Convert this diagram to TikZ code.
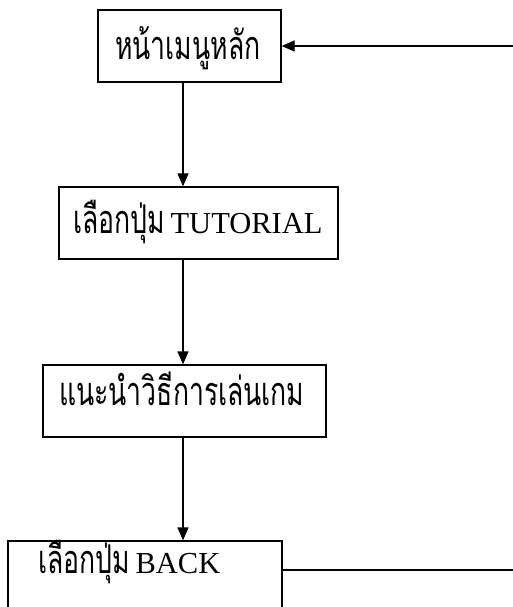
\documentclass[tikz,border=0pt]{standalone}
\usepackage{fontspec}
\setmainfont{Liberation Serif}
\newfontfamily\thaifont[Script=Thai,FakeStretch=0.67,Scale=1.3]{Loma}
\usetikzlibrary{arrows.meta}
\begin{document}
\begin{tikzpicture}[x=1pt,y=-1pt,
  box/.style={draw, line width=1.3pt, inner sep=0pt},
  lbl/.style={anchor=base west, inner sep=0pt, font=\fontsize{30.5}{36}\selectfont},
  arr/.style={line width=1.3pt, -{Triangle[length=13pt,width=11pt]}},
  ln/.style={line width=1.3pt}]
\useasboundingbox (0,0) rectangle (513,607);
% boxes
\node[box, minimum width=183pt, minimum height=72pt] (b1) at (189.5,46) {};
\node[box, minimum width=279pt, minimum height=72pt] (b2) at (198.5,223) {};
\node[box, minimum width=283pt, minimum height=72pt] (b3) at (184.5,401) {};
\node[box, minimum width=274pt, minimum height=72pt] (b4) at (145,577) {};
% texts
\node[lbl] (t1) at (115,60) {\thaifont หน้าเมนูหลัก};
\node[lbl] (t2) at (73,233) {{\thaifont เลือกปุ่ม}\hspace{-2pt} TUTORIAL};
\node[lbl] (t3) at (59,405) {\thaifont แนะนำวิธีการเล่นเกม};
\node[lbl] (t4) at (38,573) {{\thaifont เลือกปุ่ม}\hspace{-2pt} BACK};
% connectors
\coordinate (ax) at (183,0);
\coordinate (r1) at (513,46);
\coordinate (r4) at (513,570);
\draw[arr] (b1.south -| ax) -- (b2.north -| ax);
\draw[arr] (b2.south -| ax) -- (b3.north -| ax);
\draw[arr] (b3.south -| ax) -- (b4.north -| ax);
\draw[arr] (r1) -- (b1.east |- r1);
\draw[ln] (b4.east |- r4) -- (r4);
\end{tikzpicture}
\end{document}
